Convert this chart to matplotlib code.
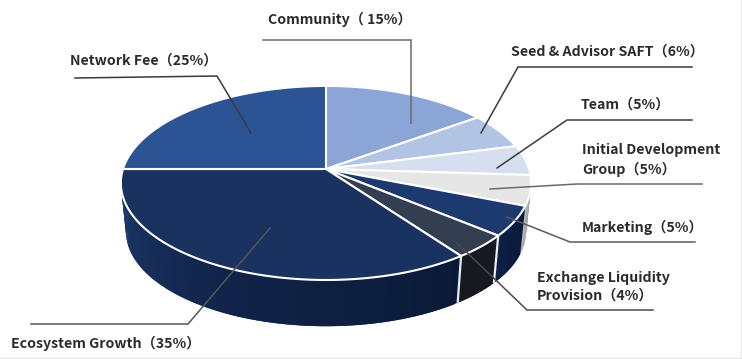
import numpy as np
import matplotlib
matplotlib.use("Agg")
import matplotlib.pyplot as plt
from matplotlib.colors import to_rgb

plt.rcParams['font.family'] = ['Noto Sans CJK SC', 'DejaVu Sans']

# data: clockwise from 12 o'clock
names = ["Community", "Seed & Advisor SAFT", "Team", "Initial Development Group",
         "Marketing", "Exchange Liquidity Provision", "Ecosystem Growth", "Network Fee"]
values = [15, 6, 5, 5, 5, 4, 35, 25]
top_colors = ["#8aa5d6", "#b1c4e3", "#d5dfef", "#e6e6e6", "#1c3a70", "#333f50", "#1a3260", "#2c5494"]
wall_start = ["#8aa5d6", "#b1c4e3", "#d5dfef", "#8c8c8c", "#0a1b3e", "#16191f", "#0a1936", "#1d3868"]
wall_mid = ["#8aa5d6", "#b1c4e3", "#d5dfef", "#a0a0a0", "#0a1b3e", "#16191f", "#11244a", "#1d3868"]
wall_end = ["#8aa5d6", "#b1c4e3", "#d5dfef", "#b8b8b8", "#0c1f45", "#16191f", "#1f3b6d", "#1d3868"]
label_text = ["Community（ 15%）", "Network Fee（25%）", "Seed & Advisor SAFT（6%）", "Team（5%）",
              "Initial Development\nGroup（5%）", "Marketing（5%）",
              "Exchange Liquidity\nProvision（4%）", "Ecosystem Growth（35%）"]

# pie geometry in pixels: perspective projection of a disc
CX, CY, A, C, B = 326.0, 169.0, 203.0, 95.0, 0.144
DEPTH, SHRINK = 49.0, 0.975


def project(theta, scale=1.0, dy=0.0):
    x, y = np.sin(theta), np.cos(theta)
    den = 1 + B * y
    return CX + scale * A * x / den, CY + dy - scale * C * y / den


fig = plt.figure(figsize=(7.42, 3.59), dpi=100)
ax = fig.add_axes([0, 0, 1, 1])
ax.set_xlim(0, 742)
ax.set_ylim(359, 0)
ax.axis("off")

edges = np.cumsum([0] + values) / sum(values) * 2 * np.pi

# side wall: overlapping strips painted in angular order so no seams show
for i in range(len(values)):
    a0, a1 = edges[i], edges[i + 1]
    c0, cm, c1 = (np.array(to_rgb(c)) for c in (wall_start[i], wall_mid[i], wall_end[i]))
    n = max(int((a1 - a0) / 0.02), 3)
    th = np.linspace(a0, a1, n + 1)
    for j in range(n):
        if np.cos(th[j]) > 0.15:
            continue
        seg = np.linspace(th[j], min(th[j] + 2 * (a1 - a0) / n, a1), 3)
        tx, ty = project(seg)
        bx, by = project(seg[::-1], SHRINK, DEPTH)
        t = (j + 0.5) / n
        col = c0 + (cm - c0) * t * 2 if t < 0.5 else cm + (c1 - cm) * (t - 0.5) * 2
        ax.fill(np.r_[tx, bx], np.r_[ty, by], facecolor=col, edgecolor="none", zorder=2)

# wall separators
for i in (5, 6):
    tx, ty = project(edges[i])
    bx, by = project(edges[i], SHRINK, DEPTH)
    ax.plot([tx, bx], [ty, by], color="#e8ecf2", lw=1.6, zorder=3, solid_capstyle="butt")

# top face
for i in range(len(values)):
    th = np.linspace(edges[i], edges[i + 1], 120)
    px, py = project(th)
    ax.fill(np.r_[CX, px], np.r_[CY, py], facecolor=top_colors[i], edgecolor="white",
            lw=1.5, joinstyle="miter", zorder=4)

# leader lines
leaders = [
    ([263, 411, 411], [40, 40, 123], "#6a6a6a"),
    ([75, 217, 251], [78, 76, 133], "#3a3a3a"),
    ([692, 518, 481], [67, 67, 133], "#3a3a3a"),
    ([692, 567, 497], [120, 120, 168], "#3a3a3a"),
    ([702, 577, 490], [184, 184, 189], "#6a6a6a"),
    ([695, 570, 507], [242, 242, 217], "#5a5a5a"),
    ([653, 527, 457], [310, 310, 243], "#4a4a4a"),
    ([31, 188, 270], [324, 324, 228], "#555555"),
]
for lx, ly, col in leaders:
    ax.plot(lx, ly, color=col, lw=1.1, zorder=5, solid_joinstyle="miter")

# labels (left x, centre y)
label_x = [268, 70, 511, 581, 582, 582, 537, 11]
label_y = [19, 61, 52, 105, 160, 227, 287, 343]
for s, x, y in zip(label_text, label_x, label_y):
    ax.text(x, y, s, fontsize=10.2, color="#2b2b2b", va="center", ha="left",
            fontweight="bold", linespacing=1.32, zorder=6)

# faint image border
ax.plot([741, 741, 0], [0, 358, 358], color="#e9e9e9", lw=1, zorder=1)

fig.savefig("out.png", dpi=100, facecolor="white")
